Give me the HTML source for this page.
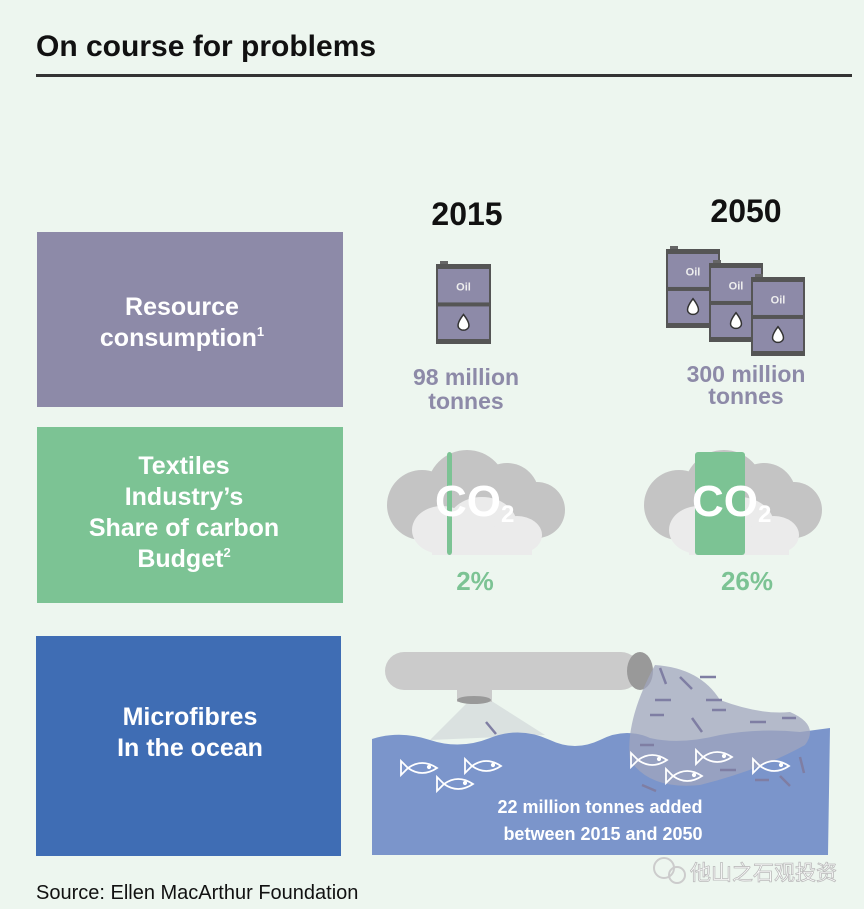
<!DOCTYPE html>
<html><head><meta charset="utf-8"><style>
html,body{margin:0;padding:0;background:#edf6ef;}
svg{display:block;font-family:"Liberation Sans","Noto Sans CJK SC",sans-serif;}
</style></head><body>
<svg id="s" width="864" height="909" viewBox="0 0 864 909" xmlns="http://www.w3.org/2000/svg">
<rect width="864" height="909" fill="#edf6ef"/>
<text x="36" y="56" font-size="30" font-weight="bold" fill="#111">On course for problems</text>
<rect x="36" y="74" width="816" height="3" fill="#333"/>
<text x="467" y="225" font-size="32" font-weight="bold" text-anchor="middle" fill="#111">2015</text>
<text x="746" y="222" font-size="32" font-weight="bold" text-anchor="middle" fill="#111">2050</text>

<g>
<rect x="37" y="232" width="306" height="175" fill="#8d8aa8"/>
<text x="182" y="315" font-size="25" font-weight="bold" fill="#fff" text-anchor="middle">Resource</text>
<text x="182" y="346" font-size="25" font-weight="bold" fill="#fff" text-anchor="middle">consumption<tspan font-size="13" dy="-10">1</tspan></text>
</g>
<g>
<rect x="37" y="427" width="306" height="176" fill="#7cc394"/>
<g font-size="25" font-weight="bold" fill="#fff" text-anchor="middle">
<text x="184" y="474">Textiles</text>
<text x="184" y="505">Industry’s</text>
<text x="184" y="536">Share of carbon</text>
<text x="184" y="567">Budget<tspan font-size="13" dy="-10">2</tspan></text>
</g></g>
<g>
<rect x="36" y="636" width="305" height="220" fill="#3f6db4"/>
<text x="190" y="725" font-size="25" font-weight="bold" fill="#fff" text-anchor="middle">Microfibres</text>
<text x="190" y="756" font-size="25" font-weight="bold" fill="#fff" text-anchor="middle">In the ocean</text>
</g>

<g id="barrels"></g>
<g font-size="23" font-weight="bold" fill="#8d8aa8" text-anchor="middle">
<text x="466" y="385">98 million</text>
<text x="466" y="409">tonnes</text>
<text x="746" y="382">300 million</text>
<text x="746" y="404">tonnes</text>
</g>
<g id="clouds"></g>

<g>
<path d="M430 740 L470 700 L490 700 L545 735 Z" fill="#d4dcdc" opacity="0.8"/>
<rect x="385" y="652" width="255" height="38" rx="19" fill="#cbcbcb"/>
<ellipse cx="640" cy="671" rx="13" ry="19" fill="#999"/>
<rect x="457" y="690" width="35" height="12" fill="#cbcbcb"/>
<ellipse cx="474" cy="700" rx="17" ry="4" fill="#999"/>
<path d="M372 739 Q400 730 430 740 Q460 750 490 738 Q520 726 550 740 Q575 752 600 740 Q625 727 650 738 Q680 745 720 735 Q760 728 800 732 L830 728 L828 855 L372 855 Z" fill="#7b95cb"/>
<path d="M655 665 Q700 668 720 700 Q760 715 790 712 Q820 725 805 745 Q760 770 700 785 Q650 790 630 760 Q625 720 655 665 Z" fill="#a0a6bd" opacity="0.75"/>
<g stroke="#7f7ea3" stroke-width="2.5" fill="none">
<path d="M660 668l6 16M680 677l12 12M700 677h16M655 700h16M706 700h16M650 715h14M712 710h14M692 718l10 14M750 722h16M782 718h14M486 722l10 12M640 745h14M720 770h16M642 785l14 6M755 780h14M800 757l4 16M790 786l-10-10"/>
</g>
<text x="600" y="813" font-size="18" font-weight="bold" fill="#fff" text-anchor="middle">22 million tonnes added</text>
<text x="603" y="840" font-size="18" font-weight="bold" fill="#fff" text-anchor="middle">between 2015 and 2050</text>
<g id="fish"></g>
</g>

<text x="36" y="899" font-size="20" fill="#111">Source: Ellen MacArthur Foundation</text>
<g>
<circle cx="664" cy="868" r="10" fill="none" stroke="#ccc" stroke-width="2"/>
<circle cx="677" cy="875" r="8" fill="none" stroke="#ccc" stroke-width="2"/>
<text x="690" y="880" font-size="21" fill="#fff" stroke="#bbb" stroke-width="0.8">他山之石观投资</text>
</g>
</svg>
<script>
const shares = [2, 26];
const barrelCounts = [1, 3];
const NS = "http://www.w3.org/2000/svg";
function el(tag, attrs, parent){const e=document.createElementNS(NS,tag);for(const k in attrs)e.setAttribute(k,attrs[k]);parent.appendChild(e);return e;}
const bg = document.getElementById('barrels');
function barrel(x,y,w,h){
  const g=el('g',{},bg);
  
  
  el('rect',{x:x+3,y:y-4,width:8,height:5,fill:'#666'},g);
  el('rect',{x:x,y:y,width:w,height:h,fill:'#8d8aa8',stroke:'#555',"stroke-width":2},g);
  el('rect',{x:x-1,y:y,width:w+2,height:4,fill:'#555'},g);
  el('rect',{x:x-1,y:y+h*0.48,width:w+2,height:4,fill:'#555'},g);
  el('rect',{x:x-1,y:y+h-4,width:w+2,height:4,fill:'#555'},g);
  const t=el('text',{x:x+w/2,y:y+h*0.33,"font-size":11,"font-weight":"bold",fill:"#eee","text-anchor":"middle"},g);t.textContent='Oil';
  const cx=x+w/2, cy=y+h*0.75;
  el('path',{d:`M${cx} ${cy-9} Q${cx+7} ${cy} ${cx+5} ${cy+4} A6 6 0 0 1 ${cx-5} ${cy+4} Q${cx-7} ${cy} ${cx} ${cy-9}Z`,fill:'#fff',stroke:'#333',"stroke-width":1.5},g);
}
const bPos=[[[437,265]],[[667,250],[710,264],[752,278]]];
barrelCounts.forEach((n,i)=>{for(let k=0;k<n;k++){const p=bPos[i][k];barrel(p[0],p[1],i?52:53,i?77:78);}});

const cg=document.getElementById('clouds');
const cloudX=[387,644];
shares.forEach((v,i)=>{
  const x=cloudX[i], g=el('g',{},cg);
  
  
  el('circle',{cx:x+35,cy:505,r:35,fill:'#c4c4c4'},g);
  el('circle',{cx:x+80,cy:490,r:40,fill:'#c4c4c4'},g);
  el('circle',{cx:x+120,cy:495,r:32,fill:'#c4c4c4'},g);
  el('circle',{cx:x+150,cy:510,r:28,fill:'#c4c4c4'},g);
  el('rect',{x:x+30,y:505,width:125,height:33,fill:'#c4c4c4'},g);
  el('ellipse',{cx:x+55,cy:530,rx:30,ry:24,fill:'#ebebeb'},g);
  el('ellipse',{cx:x+95,cy:525,rx:35,ry:28,fill:'#ebebeb'},g);
  el('ellipse',{cx:x+130,cy:535,rx:25,ry:19,fill:'#ebebeb'},g);
  el('rect',{x:x+45,y:533,width:100,height:22,fill:'#ebebeb'},g);
  const bw=Math.max(5, v/26*50);
  const bx = i? x+51 : x+60;
  el('rect',{x:bx,y:452,width:bw,height:103,rx:3,fill:'#7cc394'},g);
  const t=el('text',{x:x+48,y:516,"font-size":44,"font-weight":"bold",fill:"#fff"},g);
  t.textContent='CO';
  const s=el('tspan',{"font-size":24,dy:6},t);s.textContent='2';
  const p=el('text',{x:x+(i?103:88),y:590,"font-size":26,"font-weight":"bold",fill:"#7cc394","text-anchor":"middle"},g);
  p.textContent=v+'%';
  
  
});
const fg=document.getElementById('fish');
const fishPos=[[420,768],[484,766],[456,784],[650,760],[715,757],[685,776],[772,766]];
fishPos.forEach(p=>{
  const g=el('g',{fill:'none',stroke:'#fff',"stroke-width":1.8},fg);
  
  
  el('path',{d:`M${p[0]-12} ${p[1]} Q${p[0]+2} ${p[1]-10} ${p[0]+17} ${p[1]} Q${p[0]+2} ${p[1]+10} ${p[0]-12} ${p[1]} M${p[0]-12} ${p[1]} L${p[0]-19} ${p[1]-7} L${p[0]-19} ${p[1]+7} Z`},g);
  el('circle',{cx:p[0]+9,cy:p[1]-1,r:1.2,fill:'#fff'},g);
});
</script>
</body></html>
